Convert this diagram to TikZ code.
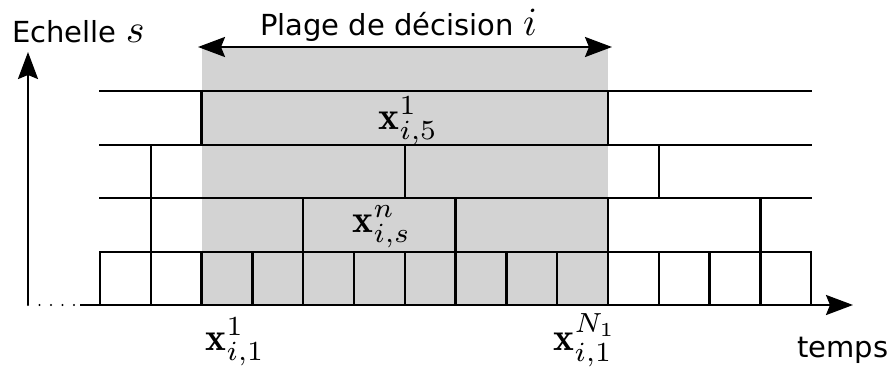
\documentclass[tikz,border=0pt]{standalone}
\usepackage{fontspec}
\newfontfamily\dejavu{DejaVu Sans}
\usetikzlibrary{arrows.meta}
\definecolor{zone}{RGB}{211,211,211}
\tikzset{
  gridline/.style={line width=2.4pt, line cap=rect},
  tip/.tip={Stealth[length=27pt, width=20pt, inset=4pt]},
  sanslabel/.style={inner sep=0pt, font=\dejavu\fontsize{29}{34}\selectfont},
  mathlabel/.style={inner sep=0pt, scale=3.95},
}
\newcommand{\bigmath}[1]{\scalebox{4}{\normalsize$#1$}}
\begin{document}
\begin{tikzpicture}[x=1pt, y=-1pt]
\useasboundingbox (0,0) rectangle (891,367);
\def\cw{50.8}
% decision zone
\fill[zone] (201.6,47) rectangle (608,305);
% coordinates
\coordinate (origin) at (28,305);
\coordinate (ytop) at (28,52);
\coordinate (xstart) at (80,305);
\coordinate (xend) at (853,305);
\coordinate (pl) at (198,47);
\coordinate (pr) at (612,47);
% horizontal lines
\foreach \y in {91,145,198,252}
  \draw[gridline] (100,\y) -- (811.2,\y);
% bottom row cells
\foreach \k in {0,...,14}
  \draw[gridline] ({100+\k*\cw},305) -- ({100+\k*\cw},252);
% row 2
\foreach \k in {1,4,7,10,13}
  \draw[gridline] ({100+\k*\cw},252) -- ({100+\k*\cw},198);
% row 3
\foreach \k in {1,6,11}
  \draw[gridline] ({100+\k*\cw},198) -- ({100+\k*\cw},145);
% row 4
\foreach \k in {2,10}
  \draw[gridline] ({100+\k*\cw},145) -- ({100+\k*\cw},91);
% axes
\draw[line width=2.4pt, -tip] (origin) -- (ytop);
\draw[line width=2.4pt, -tip] (xstart) -- (xend);
\draw[line width=2.4pt, line cap=round, dash pattern=on 0pt off 11.5pt] (origin) -- (xstart);
% decision range arrow
\draw[line width=2.4pt, tip-tip] (pl) -- (pr);
% labels
\node[sanslabel, anchor=base west] (echelle) at (12,42) {Echelle \bigmath{s}};
\node[sanslabel, anchor=base west] (plage) at (260,35) {Plage de décision \bigmath{i}};
\node[sanslabel, anchor=base west] (temps) at (797,357) {temps};
\node[mathlabel, anchor=base west] (x15) at (378,129) {$\mathbf{x}^1_{i,5}$};
\node[mathlabel, anchor=base west] (xsn) at (352,232) {$\mathbf{x}^n_{i,s}$};
\node[mathlabel, anchor=base west] (x11) at (205,350) {$\mathbf{x}^1_{i,1}$};
\node[mathlabel, anchor=base west] (xN1) at (553,350) {$\mathbf{x}^{N_1}_{i,1}$};
\end{tikzpicture}
\end{document}
